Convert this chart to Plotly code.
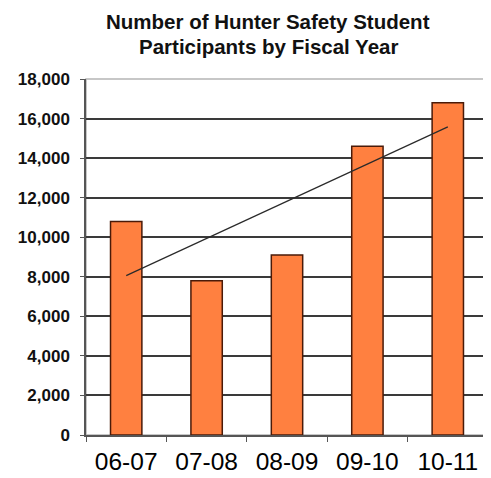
import numpy as np
import plotly.graph_objects as go

categories = ["06-07", "07-08", "08-09", "09-10", "10-11"]
participants = [10800, 7800, 9100, 14600, 16800]
y_ticks = [0, 2000, 4000, 6000, 8000, 10000, 12000, 14000, 16000, 18000]
y_tick_labels = ["0", "2,000", "4,000", "6,000", "8,000", "10,000", "12,000", "14,000", "16,000", "18,000"]

# linear trendline fitted from the data
idx = np.arange(len(participants))
slope, intercept = np.polyfit(idx, participants, 1)
trend = [float(intercept + slope * i) for i in idx]

fig = go.Figure()
fig.add_trace(go.Bar(
    x=categories, y=participants,
    marker=dict(color="#FF8040", line=dict(color="#4a1a08", width=1.5)),
    showlegend=False,
))
fig.add_trace(go.Scatter(
    x=categories, y=trend, mode="lines",
    line=dict(color="#2a2a2a", width=1.2),
    showlegend=False,
))

fig.update_layout(
    width=483, height=470,
    margin=dict(l=78, r=3, t=71, b=41),
    paper_bgcolor="white", plot_bgcolor="white",
    bargap=0.61,
    font=dict(family="Liberation Sans, Arial, sans-serif", color="black"),
    annotations=[
        dict(text="Number of Hunter Safety Student", xref="paper", yref="paper",
             x=0.453, y=1, yshift=58, xanchor="center", yanchor="middle", showarrow=False,
             font=dict(size=20.5, color="#111", weight="bold")),
        dict(text="Participants by Fiscal Year", xref="paper", yref="paper",
             x=0.453, y=1, yshift=33, xanchor="center", yanchor="middle", showarrow=False,
             font=dict(size=20.5, color="#111", weight="bold")),
    ],
    xaxis=dict(
        type="category",
        showgrid=False, showline=True, linecolor="#555", linewidth=1.5,
        ticks="outside", tickson="boundaries", ticklen=5, tickcolor="#555",
        tickfont=dict(size=24.5, color="black"),
        ticklabelstandoff=4,
        range=[-0.5, 4.5],
    ),
    yaxis=dict(
        range=[0, 18000], tickvals=y_ticks, ticktext=y_tick_labels,
        showgrid=True, gridcolor="#3a3a3a", gridwidth=1.5,
        showline=True, linecolor="#555", linewidth=1.5,
        ticks="outside", ticklen=4, tickcolor="#555",
        tickfont=dict(size=17, color="#111", weight="bold"),
        ticklabelstandoff=7,
        zeroline=False,
    ),
    shapes=[dict(type="rect", xref="paper", yref="paper", x0=0, y0=0, x1=1, y1=1,
                 line=dict(color="#b5b5b5", width=1.5), layer="below")],
)

fig.write_html("out.html")
